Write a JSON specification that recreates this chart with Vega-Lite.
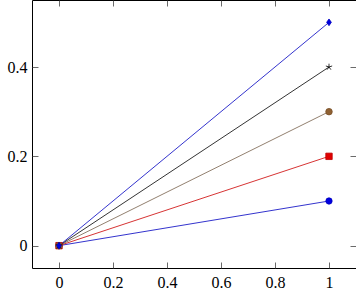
{
  "$schema": "https://vega.github.io/schema/vega-lite/v6.json",
  "autosize": "none",
  "width": 324,
  "height": 268,
  "padding": {"left": 32, "top": 0, "right": 0, "bottom": 23},
  "background": "white",
  "config": {
    "view": {"stroke": "black", "strokeWidth": 1},
    "axis": {
      "labelFont": "Liberation Serif",
      "labelFontSize": 16,
      "labelColor": "black",
      "grid": false,
      "domain": false,
      "tickColor": "#444",
      "tickWidth": 0.8
    }
  },
  "data": {
    "values": [
      {"s": "a", "x": 0, "y": 0}, {"s": "a", "x": 1, "y": 0.1},
      {"s": "b", "x": 0, "y": 0}, {"s": "b", "x": 1, "y": 0.2},
      {"s": "c", "x": 0, "y": 0}, {"s": "c", "x": 1, "y": 0.3},
      {"s": "d", "x": 0, "y": 0}, {"s": "d", "x": 1, "y": 0.4},
      {"s": "e", "x": 0, "y": 0}, {"s": "e", "x": 1, "y": 0.5}
    ]
  },
  "resolve": {"axis": {"x": "independent", "y": "independent"}},
  "layer": [
    {
      "mark": {"type": "line", "strokeWidth": 0.8},
      "encoding": {
        "x": {"field": "x", "type": "quantitative", "scale": {"domain": [-0.1, 1.1], "nice": false, "zero": false},
              "axis": {"orient": "bottom", "title": null, "values": [0, 0.2, 0.4, 0.6, 0.8, 1], "format": "~g", "tickSize": -6, "labelPadding": 12}},
        "y": {"field": "y", "type": "quantitative", "scale": {"domain": [-0.05, 0.55], "nice": false, "zero": false},
              "axis": {"orient": "left", "title": null, "values": [0, 0.2, 0.4], "format": "~g", "tickSize": -6, "labelPadding": 11}},
        "color": {"field": "s", "type": "nominal", "legend": null,
                  "scale": {"domain": ["a", "b", "c", "d", "e"], "range": ["#0000c0", "#cc0000", "#76604a", "#000000", "#0000c0"]}},
        "detail": {"field": "s"}
      }
    },
    {
      "mark": {"type": "point", "filled": true, "opacity": 1, "strokeWidth": 0.8},
      "encoding": {
        "x": {"field": "x", "type": "quantitative",
              "axis": {"orient": "top", "title": null, "values": [0, 0.2, 0.4, 0.6, 0.8, 1], "labels": false, "tickSize": -6}},
        "y": {"field": "y", "type": "quantitative",
              "axis": {"orient": "right", "title": null, "values": [0, 0.2, 0.4], "labels": false, "tickSize": -6}},
        "fill": {"field": "s", "type": "nominal", "legend": null,
                  "scale": {"domain": ["a", "b", "c", "d", "e"], "range": ["#0000e0", "#e00000", "#8f6133", "#000000", "#0000e0"]}},
        "stroke": {"field": "s", "type": "nominal", "legend": null,
                  "scale": {"domain": ["a", "b", "c", "d", "e"], "range": ["#0000c0", "#c00000", "#7a5028", "#000000", "#0000c0"]}},
        "shape": {"field": "s", "type": "nominal", "legend": null,
                  "scale": {"domain": ["a", "b", "c", "d", "e"], "range": ["circle", "square", "circle", "M0,-1L0,0M0,0L0.95,-0.31M0,0L0.59,0.81M0,0L-0.59,0.81M0,0L-0.95,-0.31", "M0,-1L0.7,0L0,1L-0.7,0Z"]}},
        "size": {"field": "s", "type": "nominal", "legend": null,
                 "scale": {"domain": ["a", "b", "c", "d", "e"], "range": [40, 45, 45, 64, 64]}}
      }
    }
  ]
}
